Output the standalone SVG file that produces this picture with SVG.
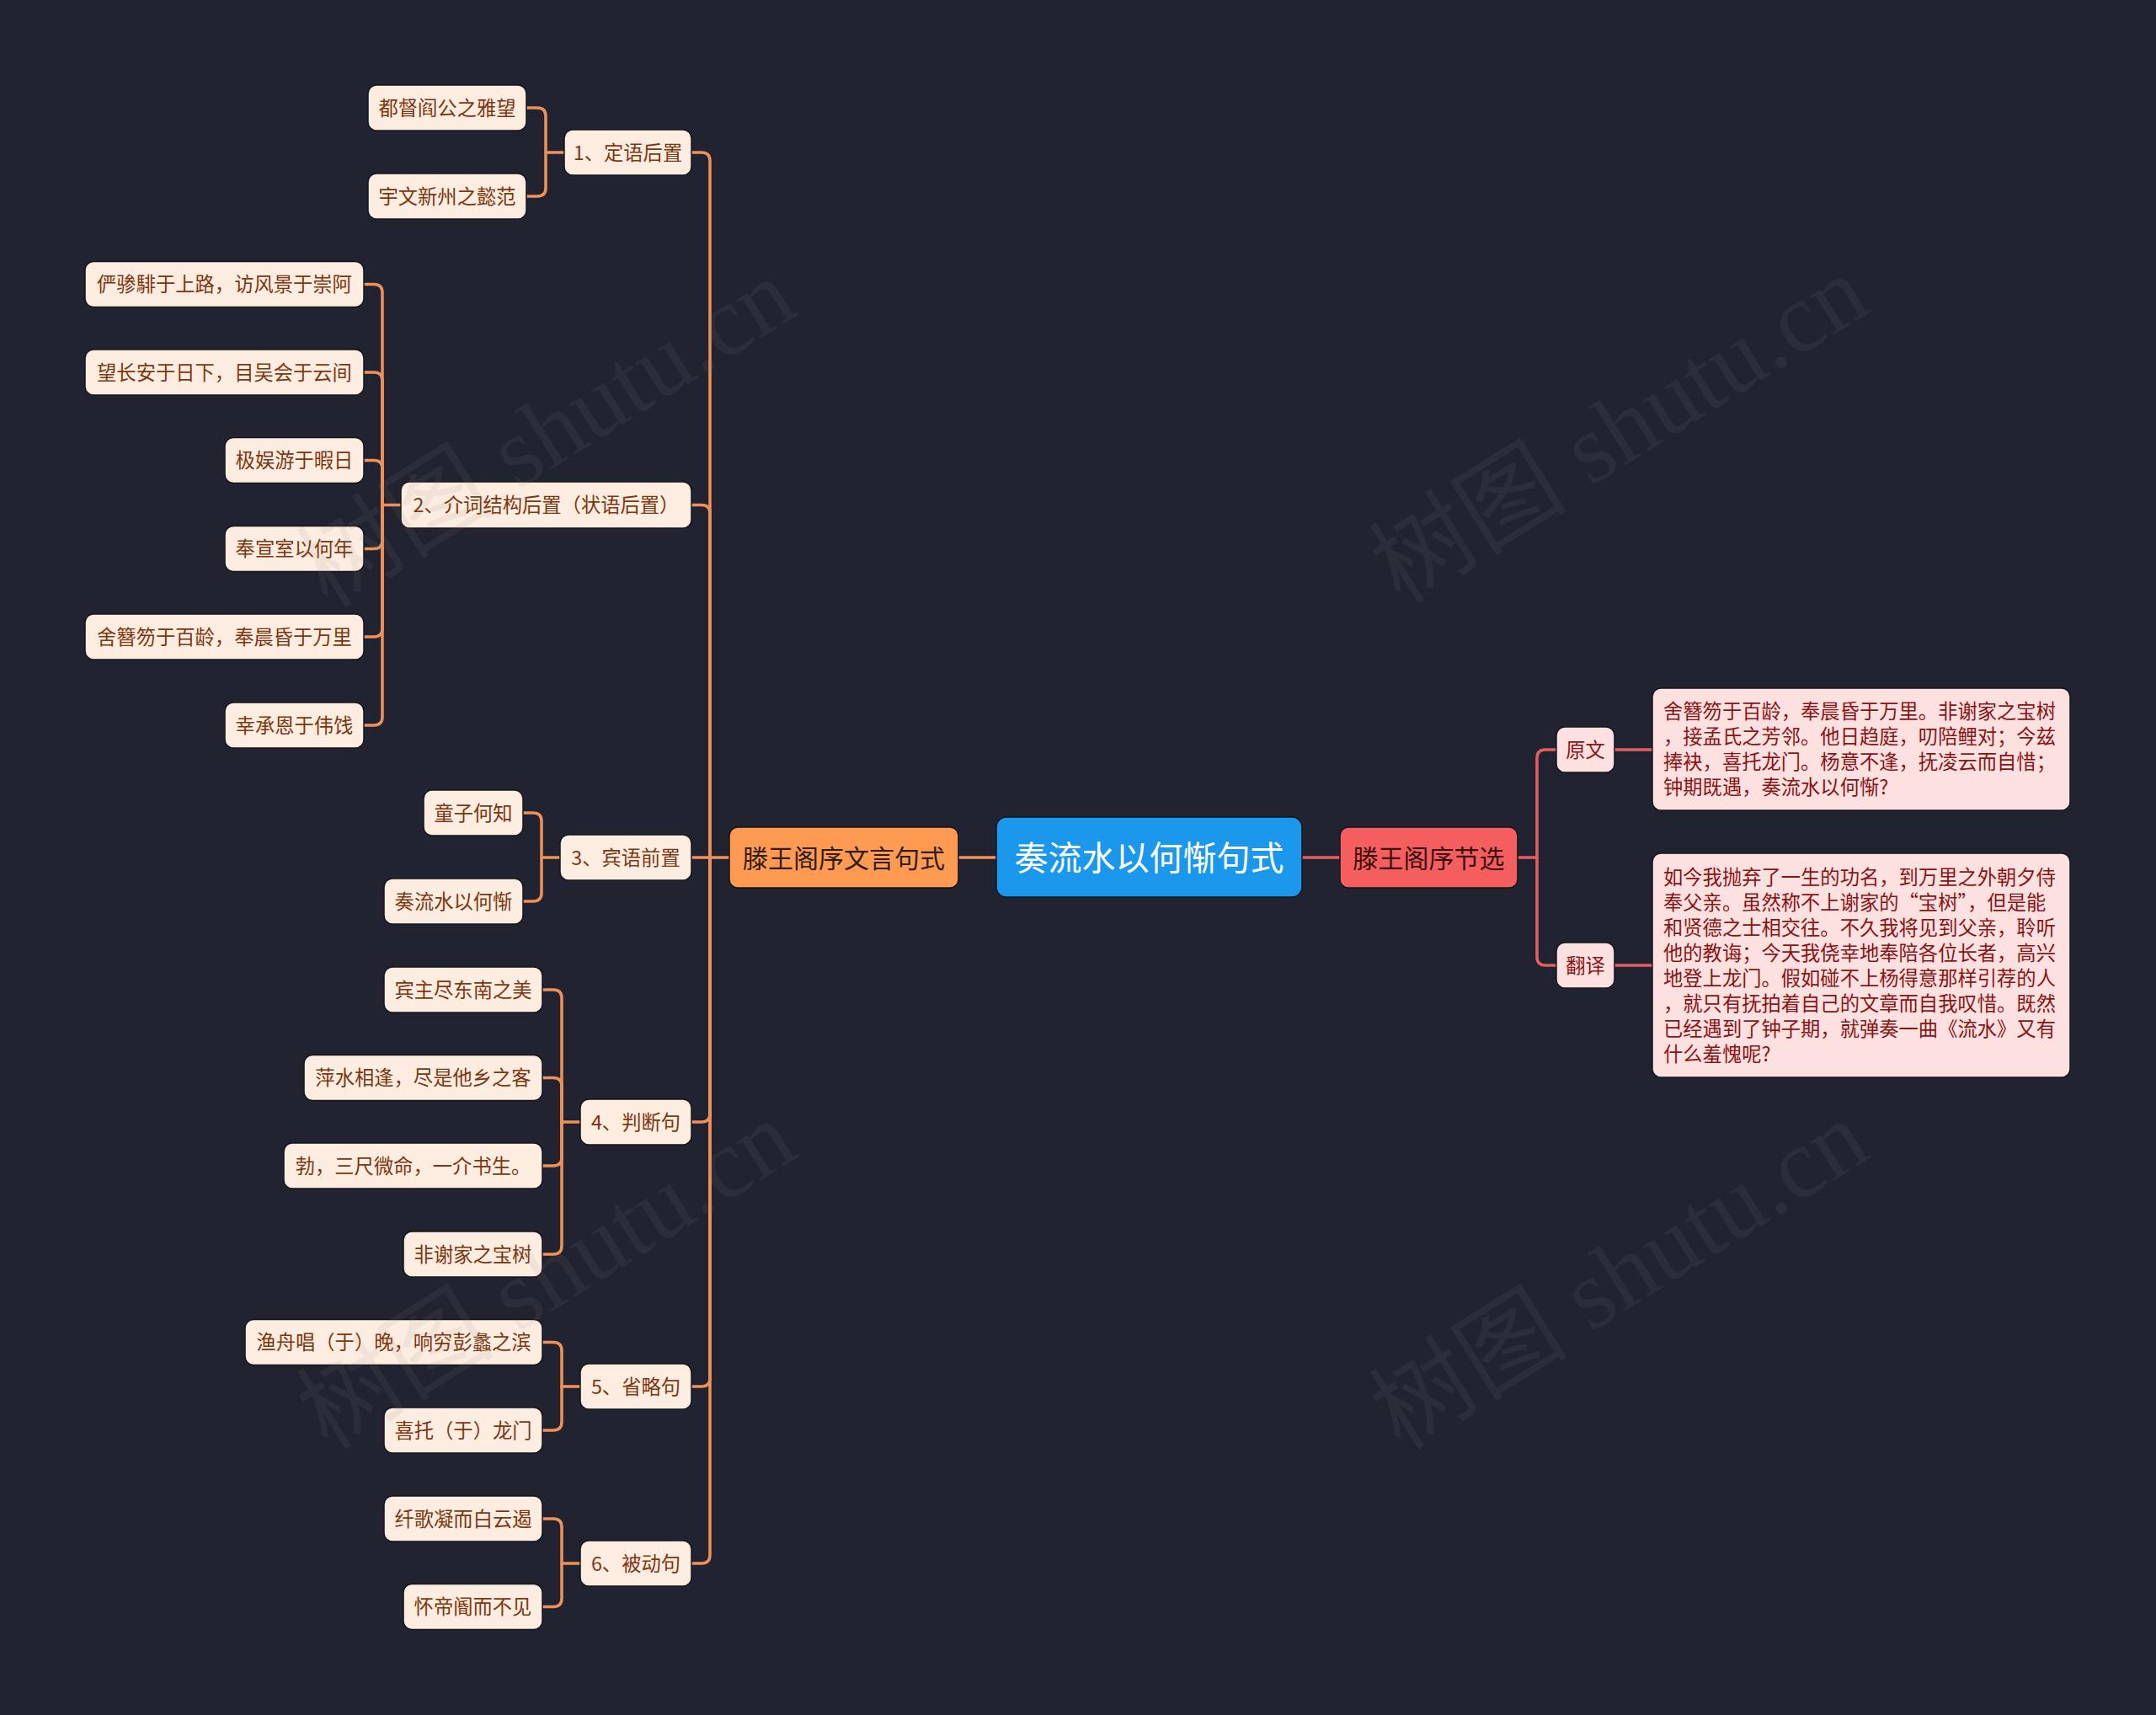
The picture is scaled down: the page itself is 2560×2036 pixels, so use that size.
<svg xmlns="http://www.w3.org/2000/svg" width="2560" height="2036" viewBox="0 0 2560 2036">
<style>
.t{font-family:"Noto Sans CJK SC","Noto Sans",sans-serif;dominant-baseline:central}
.leaf rect{fill:#fdece0;stroke:#14161e;stroke-width:1.5}
.leaf text{fill:#7c3710;font-size:23.3px;text-anchor:middle}
.pk rect{fill:#fde0e0;stroke:#14161e;stroke-width:1.5}
.pk text{fill:#8a1414;font-size:23.3px}
.ol{fill:none;stroke:#ef925a;stroke-width:3.5}
.rl{fill:none;stroke:#e35f5f;stroke-width:3.5}
.wm{font-family:"Liberation Serif","Noto Sans CJK SC",serif;font-size:118px;fill:#8a8a8a;fill-opacity:0.1;text-anchor:middle;dominant-baseline:central}
</style>
<rect width="2560" height="2036" fill="#212430"/>
<g id="connectors">
<path class="ol" d="M1183,1018 H1138"/>
<path class="rl" d="M1546,1018 H1591"/>
<path class="ol" d="M866,1018 H843 V191 Q843,181 833,181 H821"/>
<path class="ol" d="M843,1018 V609.5 Q843,599.5 833,599.5 H821"/>
<path class="ol" d="M843,1018 H821"/>
<path class="ol" d="M843,1018 V1322 Q843,1332 833,1332 H821"/>
<path class="ol" d="M843,1018 V1636 Q843,1646 833,1646 H821"/>
<path class="ol" d="M843,1018 V1846 Q843,1856 833,1856 H821"/>
<path class="ol" d="M670,181 H648 V138 Q648,128 638,128 H625"/>
<path class="ol" d="M648,181 V223 Q648,233 638,233 H625"/>
<path class="ol" d="M476,599.5 H454 V347.5 Q454,337.5 444,337.5 H432"/>
<path class="ol" d="M454,599.5 V452 Q454,442 444,442 H432"/>
<path class="ol" d="M454,599.5 V556.5 Q454,546.5 444,546.5 H432"/>
<path class="ol" d="M454,599.5 V641.5 Q454,651.5 444,651.5 H432"/>
<path class="ol" d="M454,599.5 V746 Q454,756 444,756 H432"/>
<path class="ol" d="M454,599.5 V851 Q454,861 444,861 H432"/>
<path class="ol" d="M665,1018 H643 V975 Q643,965 633,965 H621"/>
<path class="ol" d="M643,1018 V1060 Q643,1070 633,1070 H621"/>
<path class="ol" d="M689,1332 H667 V1185 Q667,1175 657,1175 H644"/>
<path class="ol" d="M667,1332 V1289.5 Q667,1279.5 657,1279.5 H644"/>
<path class="ol" d="M667,1332 V1374 Q667,1384 657,1384 H644"/>
<path class="ol" d="M667,1332 V1479 Q667,1489 657,1489 H644"/>
<path class="ol" d="M689,1646 H667 V1603.5 Q667,1593.5 657,1593.5 H644"/>
<path class="ol" d="M667,1646 V1688 Q667,1698 657,1698 H644"/>
<path class="ol" d="M689,1856 H667 V1813 Q667,1803 657,1803 H644"/>
<path class="ol" d="M667,1856 V1897.5 Q667,1907.5 657,1907.5 H644"/>
<path class="rl" d="M1802,1018 H1825 V900 Q1825,890 1835,890 H1848"/>
<path class="rl" d="M1825,1018 V1136 Q1825,1146 1835,1146 H1848"/>
<path class="rl" d="M1917,890 H1962"/>
<path class="rl" d="M1917,1146 H1962"/>
</g>
<g id="root"><rect x="1183" y="970" width="363" height="95" rx="12" fill="#1b98ec" stroke="#12141c" stroke-width="1.5"/><text class="t" x="1364.5" y="1016" font-size="40" fill="#ffffff" text-anchor="middle">奏流水以何惭句式</text></g>
<g id="n-wenyan"><rect x="866" y="982" width="272" height="72" rx="10" fill="#ff9a52" stroke="#12141c" stroke-width="1.5"/><text class="t" x="1002" y="1017" font-size="30" fill="#2e1d10" text-anchor="middle">滕王阁序文言句式</text></g>
<g id="n-jiexuan"><rect x="1591" y="982" width="211" height="72" rx="10" fill="#f55e5e" stroke="#12141c" stroke-width="1.5"/><text class="t" x="1696.5" y="1017" font-size="30" fill="#3a0f0f" text-anchor="middle">滕王阁序节选</text></g>
<g id="g1" class="leaf"><rect x="670" y="154" width="151" height="54" rx="10"/><text class="t" x="745.5" y="179.5">1、定语后置</text></g>
<g id="g1a" class="leaf"><rect x="437" y="101" width="188" height="54" rx="10"/><text class="t" x="531" y="126.5">都督阎公之雅望</text></g>
<g id="g1b" class="leaf"><rect x="437" y="206" width="188" height="54" rx="10"/><text class="t" x="531" y="231.5">宇文新州之懿范</text></g>
<g id="g2" class="leaf"><rect x="476" y="572" width="345" height="55" rx="10"/><text class="t" x="648.5" y="598">2、介词结构后置（状语后置）</text></g>
<g id="g2a" class="leaf"><rect x="101" y="310.5" width="331" height="54" rx="10"/><text class="t" x="266.5" y="336">俨骖騑于上路，访风景于崇阿</text></g>
<g id="g2b" class="leaf"><rect x="101" y="415" width="331" height="54" rx="10"/><text class="t" x="266.5" y="440.5">望长安于日下，目吴会于云间</text></g>
<g id="g2c" class="leaf"><rect x="267" y="519.5" width="165" height="54" rx="10"/><text class="t" x="349.5" y="545">极娱游于暇日</text></g>
<g id="g2d" class="leaf"><rect x="267" y="624.5" width="165" height="54" rx="10"/><text class="t" x="349.5" y="650">奉宣室以何年</text></g>
<g id="g2e" class="leaf"><rect x="101" y="729" width="331" height="54" rx="10"/><text class="t" x="266.5" y="754.5">舍簪笏于百龄，奉晨昏于万里</text></g>
<g id="g2f" class="leaf"><rect x="267" y="834" width="165" height="54" rx="10"/><text class="t" x="349.5" y="859.5">幸承恩于伟饯</text></g>
<g id="g3" class="leaf"><rect x="665" y="991" width="156" height="54" rx="10"/><text class="t" x="743" y="1016.5">3、宾语前置</text></g>
<g id="g3a" class="leaf"><rect x="503" y="938" width="118" height="54" rx="10"/><text class="t" x="562" y="963.5">童子何知</text></g>
<g id="g3b" class="leaf"><rect x="456" y="1043" width="165" height="54" rx="10"/><text class="t" x="538.5" y="1068.5">奏流水以何惭</text></g>
<g id="g4" class="leaf"><rect x="689" y="1305" width="132" height="54" rx="10"/><text class="t" x="755" y="1330.5">4、判断句</text></g>
<g id="g4a" class="leaf"><rect x="456" y="1148" width="188" height="54" rx="10"/><text class="t" x="550" y="1173.5">宾主尽东南之美</text></g>
<g id="g4b" class="leaf"><rect x="361" y="1252.5" width="283" height="54" rx="10"/><text class="t" x="502.5" y="1278">萍水相逢，尽是他乡之客</text></g>
<g id="g4c" class="leaf"><rect x="337" y="1357" width="307" height="54" rx="10"/><text class="t" x="490.5" y="1382.5">勃，三尺微命，一介书生。</text></g>
<g id="g4d" class="leaf"><rect x="479" y="1462" width="165" height="54" rx="10"/><text class="t" x="561.5" y="1487.5">非谢家之宝树</text></g>
<g id="g5" class="leaf"><rect x="689" y="1619" width="132" height="54" rx="10"/><text class="t" x="755" y="1644.5">5、省略句</text></g>
<g id="g5a" class="leaf"><rect x="291" y="1566.5" width="353" height="54" rx="10"/><text class="t" x="467.5" y="1592">渔舟唱（于）晚，响穷彭蠡之滨</text></g>
<g id="g5b" class="leaf"><rect x="456" y="1671" width="188" height="54" rx="10"/><text class="t" x="550" y="1696.5">喜托（于）龙门</text></g>
<g id="g6" class="leaf"><rect x="689" y="1829" width="132" height="54" rx="10"/><text class="t" x="755" y="1854.5">6、被动句</text></g>
<g id="g6a" class="leaf"><rect x="456" y="1776" width="188" height="54" rx="10"/><text class="t" x="550" y="1801.5">纤歌凝而白云遏</text></g>
<g id="g6b" class="leaf"><rect x="479" y="1880.5" width="165" height="54" rx="10"/><text class="t" x="561.5" y="1906">怀帝阍而不见</text></g>
<g id="r1" class="pk"><rect x="1848" y="863" width="69" height="54" rx="10"/><text class="t" x="1882.5" y="888.5" text-anchor="middle">原文</text></g>
<g id="r1t" class="pk"><rect x="1962" y="817" width="496" height="145" rx="10"/>
<text class="t" x="1975" y="843">舍簪笏于百龄，奉晨昏于万里。非谢家之宝树</text>
<text class="t" x="1975" y="873">，接孟氏之芳邻。他日趋庭，叨陪鲤对；今兹</text>
<text class="t" x="1975" y="903">捧袂，喜托龙门。杨意不逢，抚凌云而自惜；</text>
<text class="t" x="1975" y="933">钟期既遇，奏流水以何惭?</text></g>
<g id="r2" class="pk"><rect x="1848" y="1119" width="69" height="54" rx="10"/><text class="t" x="1882.5" y="1144.5" text-anchor="middle">翻译</text></g>
<g id="r2t" class="pk"><rect x="1962" y="1013" width="496" height="266" rx="10"/>
<text class="t" x="1975" y="1039.5">如今我抛弃了一生的功名，到万里之外朝夕侍</text>
<text class="t" x="1975" y="1069.5">奉父亲。虽然称不上谢家的“宝树”，但是能</text>
<text class="t" x="1975" y="1099.5">和贤德之士相交往。不久我将见到父亲，聆听</text>
<text class="t" x="1975" y="1129.5">他的教诲；今天我侥幸地奉陪各位长者，高兴</text>
<text class="t" x="1975" y="1159.5">地登上龙门。假如碰不上杨得意那样引荐的人</text>
<text class="t" x="1975" y="1189.5">，就只有抚拍着自己的文章而自我叹惜。既然</text>
<text class="t" x="1975" y="1219.5">已经遇到了钟子期，就弹奏一曲《流水》又有</text>
<text class="t" x="1975" y="1249.5">什么羞愧呢?</text></g>
<g id="watermark">
<text class="wm" transform="translate(649,514) rotate(-32)">树图 shutu.cn</text>
<text class="wm" transform="translate(1923,510) rotate(-32)">树图 shutu.cn</text>
<text class="wm" transform="translate(649,1514) rotate(-32)">树图 shutu.cn</text>
<text class="wm" transform="translate(1923,1514) rotate(-32)">树图 shutu.cn</text>
</g>
</svg>
